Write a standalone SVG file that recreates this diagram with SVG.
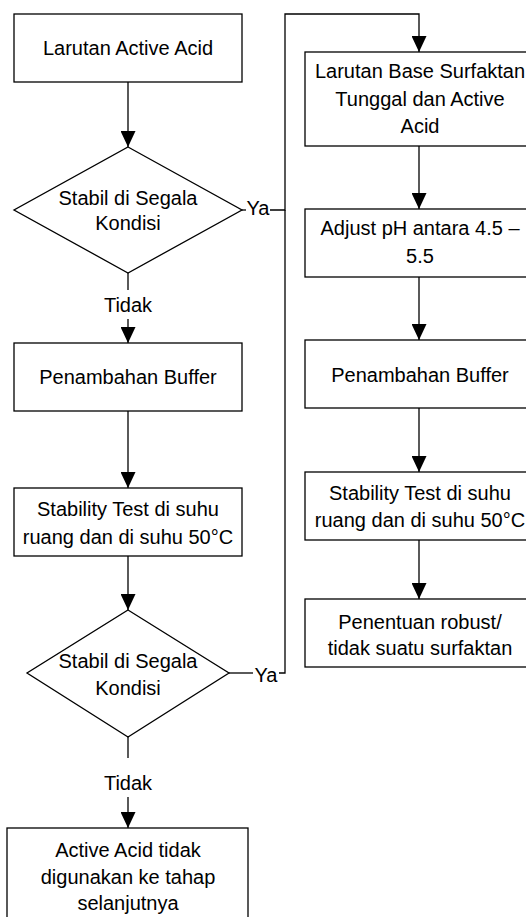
<svg xmlns="http://www.w3.org/2000/svg" width="526" height="917" viewBox="0 0 526 917">
<style>
.box{fill:#fff;stroke:#000;stroke-width:1.3}
.t{font-family:"Liberation Sans",Arial,sans-serif;font-size:20px;fill:#000;text-anchor:middle}
.c{fill:none;stroke:#000;stroke-width:1.3}
</style>
<defs>
<marker id="ah" viewBox="0 0 16 15" refX="16" refY="7.5" markerWidth="16" markerHeight="15" markerUnits="userSpaceOnUse" orient="auto">
<path d="M0,0 L16,7.5 L0,15 z" fill="#000"/>
</marker>
</defs>
<rect width="526" height="917" fill="#fff"/>
<g id="connectors">
<line class="c" x1="128" y1="82" x2="128" y2="147" marker-end="url(#ah)"/>
<line class="c" x1="128" y1="273" x2="128" y2="290"/>
<line class="c" x1="128" y1="319" x2="128" y2="343" marker-end="url(#ah)"/>
<line class="c" x1="242" y1="210" x2="246" y2="210"/>
<polyline class="c" points="270,210 285,210 285,14 419,14 419,52" marker-end="url(#ah)"/>
<line class="c" x1="128" y1="411" x2="128" y2="488" marker-end="url(#ah)"/>
<line class="c" x1="128" y1="556" x2="128" y2="610" marker-end="url(#ah)"/>
<line class="c" x1="229" y1="673" x2="253" y2="673"/>
<polyline class="c" points="279,673 285,673 285,210"/>
<line class="c" x1="128" y1="737" x2="128" y2="758"/>
<line class="c" x1="128" y1="797" x2="128" y2="828" marker-end="url(#ah)"/>
<line class="c" x1="419" y1="146" x2="419" y2="209" marker-end="url(#ah)"/>
<line class="c" x1="419" y1="277" x2="419" y2="340" marker-end="url(#ah)"/>
<line class="c" x1="419" y1="408" x2="419" y2="472" marker-end="url(#ah)"/>
<line class="c" x1="419" y1="540" x2="419" y2="599" marker-end="url(#ah)"/>
<text class="t" x="258" y="215">Ya</text>
<text class="t" x="128" y="312">Tidak</text>
<text class="t" x="266" y="682">Ya</text>
<text class="t" x="128" y="790">Tidak</text>
</g>
<g id="n1">
<rect class="box" x="14" y="14" width="228" height="68"/>
<text class="t" x="128" y="55">Larutan Active Acid</text>
</g>
<g id="d1">
<polygon class="box" points="128,147 242,210 128,273 14,210"/>
<text class="t" x="128" y="205">Stabil di Segala</text>
<text class="t" x="128" y="230">Kondisi</text>
</g>
<g id="n2">
<rect class="box" x="14" y="343" width="228" height="68"/>
<text class="t" x="128" y="384">Penambahan Buffer</text>
</g>
<g id="n3">
<rect class="box" x="14" y="488" width="228" height="68"/>
<text class="t" x="128" y="516">Stability Test di suhu</text>
<text class="t" x="128" y="544">ruang dan di suhu 50°C</text>
</g>
<g id="d2">
<polygon class="box" points="128,610 229,673 128,737 27,673"/>
<text class="t" x="128" y="668">Stabil di Segala</text>
<text class="t" x="128" y="695">Kondisi</text>
</g>
<g id="n4">
<rect class="box" x="7" y="828" width="241" height="100"/>
<text class="t" x="128" y="857">Active Acid tidak</text>
<text class="t" x="128" y="884">digunakan ke tahap</text>
<text class="t" x="128" y="910">selanjutnya</text>
</g>
<g id="r1">
<rect class="box" x="305" y="52" width="228" height="94"/>
<text class="t" x="420" y="78">Larutan Base Surfaktan</text>
<text class="t" x="420" y="106">Tunggal dan Active</text>
<text class="t" x="420" y="133">Acid</text>
</g>
<g id="r2">
<rect class="box" x="305" y="209" width="228" height="68"/>
<text class="t" x="420" y="235">Adjust pH antara 4.5 –</text>
<text class="t" x="420" y="263">5.5</text>
</g>
<g id="r3">
<rect class="box" x="305" y="340" width="228" height="68"/>
<text class="t" x="420" y="382">Penambahan Buffer</text>
</g>
<g id="r4">
<rect class="box" x="305" y="472" width="228" height="68"/>
<text class="t" x="420" y="500">Stability Test di suhu</text>
<text class="t" x="420" y="527">ruang dan di suhu 50°C</text>
</g>
<g id="r5">
<rect class="box" x="305" y="599" width="228" height="68"/>
<text class="t" x="420" y="629">Penentuan robust/</text>
<text class="t" x="420" y="655">tidak suatu surfaktan</text>
</g>
</svg>
